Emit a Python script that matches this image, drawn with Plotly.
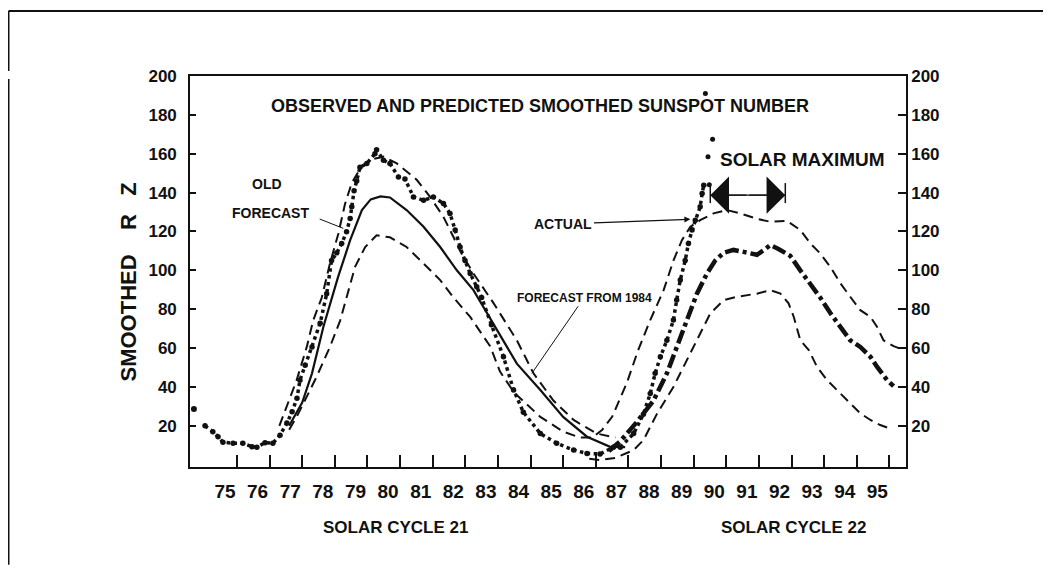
import plotly.graph_objects as go

# ---------------- data (years as 19xx, smoothed sunspot number) ----------------
obs21_x = [74.02, 74.26, 74.42, 74.57, 74.88, 75.18, 75.46, 75.61, 75.86, 76.10, 76.32, 76.53,
           76.69, 76.84, 76.93, 77.09, 77.30, 77.55, 77.75, 77.90, 78.06, 78.21, 78.36, 78.47,
           78.52, 78.59, 78.67, 78.77, 78.98, 79.23, 79.28, 79.49, 79.69, 79.95, 80.15, 80.41,
           80.72, 81.02, 81.33, 81.53, 81.69, 81.84, 81.99, 82.15, 82.35, 82.50, 82.80, 83.17,
           83.48, 83.78, 84.30, 84.80, 85.32, 85.73, 86.13, 86.54]
obs21_y = [20, 17, 14.4, 11.6, 11, 11, 9.2, 9, 11.3, 11, 15.2, 21.4,
           27.2, 34.2, 43.5, 51.2, 60.6, 72.8, 88, 105, 109, 113.8, 119.8, 126.7,
           132.7, 141, 146, 153, 155, 160, 162, 156.7, 155, 148, 147, 137.8,
           136, 137.8, 134.4, 129.3, 120.7, 112, 105, 98.4, 91.5, 86, 72, 55.5,
           38.4, 27, 16, 11, 7.5, 5.8, 5.5, 9]
first_x = [73.68]
first_y = [28.6]

obs22_x = [86.75, 87.16, 87.46, 87.67, 87.82, 87.98, 88.18, 88.38, 88.48, 88.59, 88.74,
           88.84, 88.95, 89.05, 89.20, 89.26, 89.31]
obs22_y = [9, 16, 26, 36.6, 47, 55.5, 64, 74.4, 84.7, 95, 105,
           113.8, 120.7, 125.8, 132.7, 139.6, 143.8]
spike_x = [89.48, 89.44, 89.58, 89.36]
spike_y = [144, 158.4, 167.4, 191]

fc21_x = [76.6, 77.0, 77.3, 77.65, 78.1, 78.47, 78.83, 79.1, 79.4, 79.69, 80.2, 80.72,
          81.23, 81.74, 82.25, 82.97, 83.58, 84.3, 85.0, 85.73, 86.44, 86.9]
fc21_y = [20, 32, 47, 71, 96.6, 115.5, 131, 136.5, 138, 137.5, 131, 122.4,
          112, 100, 89.8, 69.2, 52, 38.4, 24.6, 14.4, 9.2, 9]

up21_x = [76.3, 76.52, 76.83, 77.14, 77.34, 77.6, 77.85, 78.11, 78.31, 78.52, 78.8, 79.1,
          79.5, 79.9, 80.2, 80.51, 80.92, 81.33, 81.64, 81.84, 82.25, 82.87, 83.58, 84.09,
          84.7, 85.32, 86.03, 86.6]
up21_y = [20, 29.8, 43.5, 60.6, 74.4, 86, 103.5, 119, 134, 145, 153, 157,
          158.5, 155, 151, 146.6, 137.8, 127.5, 117, 110, 98.4, 83, 64, 47,
          33, 23, 16, 14]

# lower bound of cycle 21 which turns into the upper bound of cycle 22
band_x = [76.6, 76.83, 77.14, 77.44, 77.85, 78.16, 78.36, 78.62, 78.93, 79.28, 79.69, 80.2,
          80.72, 81.23, 81.64, 82.15, 82.76, 83.06, 83.5, 84.3, 85.0, 85.5, 85.9, 86.2,
          86.5, 86.95, 87.3, 87.67, 88.08, 88.38, 88.64, 88.9, 89.2, 89.61, 90.02, 90.43,
          90.94, 91.35, 91.86, 92.27, 92.58, 92.88, 93.19, 93.5, 93.8, 94.11, 94.42, 94.62,
          94.82, 95.13, 95.44]
band_y = [18, 24.6, 35, 45.2, 60.6, 74, 86, 101.8, 112, 118, 117, 112,
          103.5, 95, 86, 76, 61, 48, 37, 24.6, 17, 14, 14, 18,
          24.6, 42, 59, 74.4, 89.8, 105, 115.5, 122.4, 125.8, 129.3, 131, 129.3,
          126.5, 125, 125.5, 120.7, 113.8, 108.7, 101.8, 93.3, 86.4, 79.5, 76, 71,
          64, 61, 59]

lo22_x = [85.8, 86.13, 86.6, 87.16, 87.46, 87.87, 88.38, 88.8, 89.2, 89.51, 89.92, 90.33,
          90.94, 91.35, 91.66, 91.91, 92.07, 92.27, 92.53, 92.78, 93.09, 93.4, 93.7, 94.11,
          94.42, 94.72, 95.08]
lo22_y = [3, 2.4, 3.5, 7.5, 12.6, 26, 40, 54, 67.5, 77.8, 84.7, 86.4,
          88, 89.8, 88, 83, 76, 64, 59, 50.4, 43.5, 38.4, 33.2, 26.4,
          23, 20.4, 18.2]

fc22_x = [86.4, 86.75, 87.26, 87.77, 88.18, 88.48, 88.8, 89.1, 89.41, 89.66, 89.92, 90.22,
          90.53, 90.94, 91.2, 91.35, 91.6, 91.96, 92.27, 92.58, 92.88, 93.19, 93.5, 93.8,
          94.11, 94.42, 94.62, 94.93, 95.13]
fc22_y = [7, 12, 22, 33, 47, 60.6, 74.4, 88, 98.4, 105, 109, 110.5,
          109.5, 108, 111, 113, 111, 107.5, 100, 93, 86, 78, 71, 64,
          60.6, 55.5, 50.4, 43.5, 40.4]

x_ticks = list(range(75, 96))
y_ticks = list(range(20, 201, 20))

INK = "#111111"
FONT = "Liberation Sans, Arial, sans-serif"
DASH = "10px,6px"

fig = go.Figure()

fig.add_trace(go.Scatter(x=up21_x, y=up21_y, mode="lines",
                         line=dict(color=INK, width=2, dash=DASH), hoverinfo="skip"))
fig.add_trace(go.Scatter(x=band_x, y=band_y, mode="lines",
                         line=dict(color=INK, width=2, dash=DASH), hoverinfo="skip"))
fig.add_trace(go.Scatter(x=lo22_x, y=lo22_y, mode="lines",
                         line=dict(color=INK, width=2, dash=DASH), hoverinfo="skip"))
fig.add_trace(go.Scatter(x=fc21_x, y=fc21_y, mode="lines",
                         line=dict(color=INK, width=2.2), hoverinfo="skip"))
fig.add_trace(go.Scatter(x=fc22_x, y=fc22_y, mode="lines",
                         line=dict(color=INK, width=4.5, dash="14px,4px,4px,4px"), hoverinfo="skip"))
fig.add_trace(go.Scatter(x=obs21_x, y=obs21_y, mode="lines+markers",
                         line=dict(color=INK, width=3.5, dash="dot"),
                         marker=dict(color=INK, size=5.5), hoverinfo="skip"))
fig.add_trace(go.Scatter(x=first_x, y=first_y, mode="markers",
                         marker=dict(color=INK, size=6), hoverinfo="skip"))
fig.add_trace(go.Scatter(x=obs22_x, y=obs22_y, mode="lines+markers",
                         line=dict(color=INK, width=3.5, dash="dot"),
                         marker=dict(color=INK, size=5.5), hoverinfo="skip"))
fig.add_trace(go.Scatter(x=spike_x, y=spike_y, mode="markers",
                         marker=dict(color=INK, size=5), hoverinfo="skip"))
# invisible trace so the right-hand axis is drawn
fig.add_trace(go.Scatter(x=[80], y=[100], yaxis="y2", mode="markers",
                         marker=dict(opacity=0), hoverinfo="skip"))

tickfont = dict(family=FONT, size=17, color=INK, weight="bold")

# the page body has an 8px margin, so the figure is 8px smaller than the window
fig.update_layout(
    width=1043, height=571,
    margin=dict(l=182, r=145, t=68, b=112),
    paper_bgcolor="white", plot_bgcolor="white",
    showlegend=False,
    font=dict(family=FONT, color=INK, weight="bold"),
    xaxis=dict(range=[73.56, 95.51], tickvals=x_ticks, ticktext=[str(v) for v in x_ticks],
               ticks="inside", ticklen=12, tickwidth=1.5, tickcolor=INK,
               showline=True, linewidth=1.6, linecolor=INK, mirror=True,
               showgrid=False, zeroline=False, ticklabelshift=-12, ticklabelstandoff=6,
               tickfont=dict(family=FONT, size=19, color=INK, weight="bold")),
    yaxis=dict(range=[-1.2, 200], tickvals=y_ticks, ticks="inside", ticklen=6, tickwidth=1.5,
               tickcolor=INK, showline=True, linewidth=1.6, linecolor=INK, mirror=True,
               showgrid=False, zeroline=False, ticklabelstandoff=8, tickfont=tickfont),
    yaxis2=dict(range=[-1.2, 200], tickvals=y_ticks, ticks="inside", ticklen=8, tickwidth=1.5,
                tickcolor=INK, overlaying="y", side="right", showline=True, linewidth=1.6,
                linecolor=INK, showgrid=False, zeroline=False, ticklabelstandoff=0,
                tickfont=tickfont),
)

def txt(text, x, y, size, xref="x", yref="y", xanchor="center", **kw):
    fig.add_annotation(text=text, x=x, y=y, xref=xref, yref=yref, showarrow=False,
                       xanchor=xanchor, yanchor="middle",
                       font=dict(family=FONT, size=size, color=INK, weight="bold"), **kw)

NB = "\u00a0"
txt("OBSERVED AND PREDICTED SMOOTHED SUNSPOT NUMBER", 0.4888, 0.924, 18, "paper", "paper")
txt("SMOOTHED" + NB * 3 + " R" + NB * 2 + " Z", -0.0852, 0.4744, 22, "paper", "paper", textangle=-90)
txt("SOLAR CYCLE 21", 0.2877, -0.1535, 17, "paper", "paper")
txt("SOLAR CYCLE 22", 0.8422, -0.1535, 17, "paper", "paper")
txt("OLD", 75.92, 144.3, 14)
txt("FORECAST", 76.04, 129.3, 14)
txt("SOLAR MAXIMUM", 89.76, 157.2, 19, xanchor="left")

# leader for OLD FORECAST
fig.add_annotation(text="", x=78.26, y=121.6, ax=77.49, ay=126.7, xref="x", yref="y",
                   axref="x", ayref="y", showarrow=True, arrowhead=0, arrowwidth=1, arrowcolor=INK)
# ACTUAL
fig.add_annotation(text="ACTUAL", x=88.9, y=126.3, ax=85.01, ay=123.8, xref="x", yref="y",
                   axref="x", ayref="y", showarrow=True, arrowhead=2, arrowsize=1, arrowwidth=1.2,
                   arrowcolor=INK, font=dict(family=FONT, size=14, color=INK, weight="bold"))
# FORECAST FROM 1984
fig.add_annotation(text="FORECAST FROM 1984", x=84.04, y=47.0, ax=85.64, ay=85.9, xref="x", yref="y",
                   axref="x", ayref="y", showarrow=True, arrowhead=0, arrowwidth=1, arrowcolor=INK,
                   font=dict(family=FONT, size=12, color=INK, weight="bold"))
# solar maximum double arrow
max_start, max_end, max_level = 89.51, 91.81, 138.7
fig.add_shape(type="line", x0=max_start, x1=max_end, y0=max_level, y1=max_level, xref="x", yref="y",
              line=dict(color=INK, width=1.2))
for end in (max_start, max_end):
    fig.add_annotation(text="", x=end, y=max_level, ax=(max_start + max_end) / 2, ay=max_level,
                       xref="x", yref="y", axref="x", ayref="y", showarrow=True, arrowhead=1,
                       arrowsize=5.2, arrowwidth=1.2, arrowcolor=INK)
    fig.add_shape(type="line", x0=end, x1=end, y0=134.6, y1=144.9, xref="x", yref="y",
                  line=dict(color=INK, width=1.5))

# outer frame of the page
fig.add_shape(type="line", xref="paper", yref="paper", x0=-0.2535, x1=1.1983, y0=1.1662, y1=1.1662,
              line=dict(color=INK, width=2))
fig.add_shape(type="line", xref="paper", yref="paper", x0=-0.2535, x1=-0.2535, y0=1.1662, y1=1.0128,
              line=dict(color=INK, width=2))
fig.add_shape(type="line", xref="paper", yref="paper", x0=-0.2535, x1=-0.2535, y0=0.9923, y1=-0.25,
              line=dict(color=INK, width=2))
fig.add_shape(type="line", xref="paper", yref="paper", x0=1.1983, x1=1.1983, y0=1.1662, y1=-0.01,
              line=dict(color=INK, width=2))

fig.write_html("out.html")
